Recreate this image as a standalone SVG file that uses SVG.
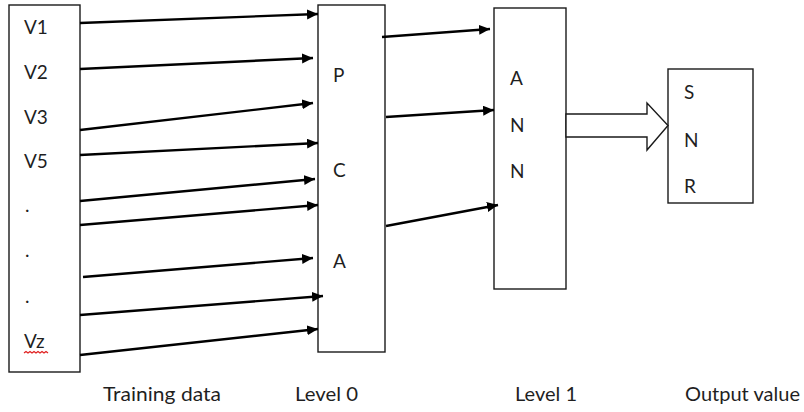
<svg xmlns="http://www.w3.org/2000/svg" width="804" height="412" viewBox="0 0 804 412">
  <style>
    .box { fill: #ffffff; stroke: #1a1a1a; stroke-width: 1.4; }
    .lbl { font-family: Lato, "Open Sans", "Liberation Sans", sans-serif; font-size: 19px; fill: #1f1f1f; }
    .cap { font-family: Lato, "Open Sans", "Liberation Sans", sans-serif; font-size: 19px; fill: #1f1f1f; }
    .edge { stroke: #000000; stroke-width: 2.4; fill: none; marker-end: url(#head); }
    .block { fill: #ffffff; stroke: #1a1a1a; stroke-width: 1.4; }
    .squiggle { fill: none; stroke: #e02020; stroke-width: 1.2; }
  </style>
  <defs>
    <marker id="head" markerUnits="userSpaceOnUse" markerWidth="13" markerHeight="11" refX="11" refY="5" orient="auto">
      <path d="M0,0 L11,5 L0,10 z" fill="#000000"/>
    </marker>
  </defs>
  <rect width="804" height="412" fill="#ffffff"/>

  <!-- input features -->
  <g id="training-data">
    <rect class="box" x="9" y="5" width="71" height="367"/>
    <text class="lbl" x="24" y="34">V1</text>
    <text class="lbl" x="24" y="79">V2</text>
    <text class="lbl" x="24" y="124">V3</text>
    <text class="lbl" x="24" y="168">V5</text>
    <text class="lbl" x="25" y="212">.</text>
    <text class="lbl" x="25" y="257">.</text>
    <text class="lbl" x="25" y="303">.</text>
    <text class="lbl" x="24" y="348">Vz</text>
    <path class="squiggle" d="M24,353 l2,-1.5 l2,1.5 l2,-1.5 l2,1.5 l2,-1.5 l2,1.5 l2,-1.5 l2,1.5 l2,-1.5 l2,1.5 l2,-1.5 l2,1.5"/>
  </g>

  <!-- level 0: PCA -->
  <g id="pca">
    <rect class="box" x="318" y="5" width="67" height="347"/>
    <text class="lbl" x="333" y="82">P</text>
    <text class="lbl" x="333" y="177">C</text>
    <text class="lbl" x="333" y="268">A</text>
  </g>

  <!-- level 1: ANN -->
  <g id="ann">
    <rect class="box" x="494" y="8" width="72" height="281"/>
    <text class="lbl" x="510" y="85">A</text>
    <text class="lbl" x="510" y="132">N</text>
    <text class="lbl" x="510" y="178">N</text>
  </g>

  <!-- output: SNR -->
  <g id="snr">
    <rect class="box" x="668" y="69" width="85" height="134"/>
    <text class="lbl" x="684" y="99">S</text>
    <text class="lbl" x="684" y="147">N</text>
    <text class="lbl" x="684" y="193">R</text>
  </g>

  <g id="connectors">
    <line class="edge" x1="80" y1="23" x2="318" y2="14"/>
    <line class="edge" x1="80" y1="69" x2="313" y2="58"/>
    <line class="edge" x1="80" y1="130" x2="313" y2="103"/>
    <line class="edge" x1="80" y1="155" x2="318" y2="143"/>
    <line class="edge" x1="80" y1="201" x2="315" y2="179"/>
    <line class="edge" x1="80" y1="225" x2="318" y2="205"/>
    <line class="edge" x1="83" y1="277" x2="313" y2="258"/>
    <line class="edge" x1="80" y1="315" x2="323" y2="296"/>
    <line class="edge" x1="80" y1="355" x2="318" y2="329"/>

    <line class="edge" x1="382" y1="37" x2="490" y2="29"/>
    <line class="edge" x1="386" y1="117" x2="494" y2="110"/>
    <line class="edge" x1="386" y1="226" x2="498" y2="205"/>

    <polygon class="block" points="566,114 647,114 647,103 668,125.5 647,150 647,137 566,137"/>
  </g>

  <!-- column captions -->
  <g id="captions">
    <text class="cap" x="103" y="401" textLength="118" lengthAdjust="spacingAndGlyphs">Training data</text>
    <text class="cap" x="295" y="401" textLength="63" lengthAdjust="spacingAndGlyphs">Level 0</text>
    <text class="cap" x="515" y="401" textLength="62" lengthAdjust="spacingAndGlyphs">Level 1</text>
    <text class="cap" x="685" y="401" textLength="115" lengthAdjust="spacingAndGlyphs">Output value</text>
  </g>
</svg>
